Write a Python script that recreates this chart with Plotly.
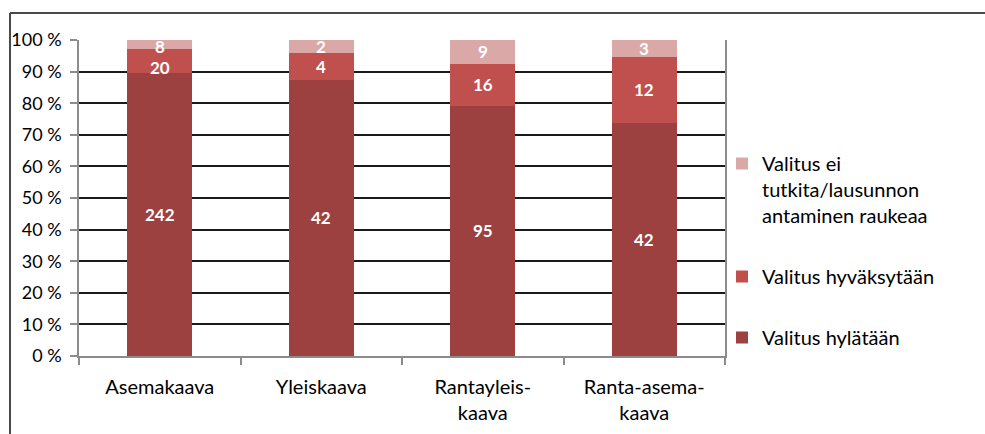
import plotly.graph_objects as go

categories = ["Asemakaava", "Yleiskaava", "Rantayleis-<br>kaava", "Ranta-asema-<br>kaava"]
hylataan = [242, 42, 95, 42]
hyvaksytaan = [20, 4, 16, 12]
ei_tutkita = [8, 2, 9, 3]
series_names = ["Valitus hylätään", "Valitus hyväksytään",
                "Valitus ei<br>tutkita/lausunnon<br>antaminen raukeaa"]
series_values = [hylataan, hyvaksytaan, ei_tutkita]
colors = ["#9C413F", "#C0504D", "#DBA8A8"]
y_ticks = [0, 10, 20, 30, 40, 50, 60, 70, 80, 90, 100]
y_tick_labels = [f"{v} %" for v in y_ticks]

FONT = "Lato"
W, H = 985, 434
L, R, T, B = 79, 725, 40, 356
pw, ph = R - L, B - T

def px(x):
    return (x - L) / pw

def py(y):
    return (B - y) / ph

fig = go.Figure()
n = len(series_names)
for i, (name, vals, col) in enumerate(zip(series_names, series_values, colors)):
    fig.add_trace(go.Bar(
        x=categories, y=vals, name=name, marker=dict(color=col, line=dict(width=0)),
        legendgroup=f"g{i}", legendrank=(n - i) * 100, hoverinfo="skip",
    ))

# data labels: centred in each stacked segment (percent-normalised),
# nudged down so small top labels stay inside the plot and don't collide
totals = [sum(v) for v in zip(*series_values)]
annotations = []
pix_per_pct = ph / 100.0
for j, cat in enumerate(categories):
    base = 0.0
    segs = []
    for vals in series_values:
        share = vals[j] / totals[j] * 100
        segs.append((base + share / 2, vals[j]))
        base += share
    prev_center_px = None
    for mid, v in reversed(segs):
        center_px = (100 - mid) * pix_per_pct
        shift = 0.0
        if center_px < 7:
            shift = 7 - center_px
        if prev_center_px is not None and center_px + shift - prev_center_px < 20:
            shift = prev_center_px + 20 - center_px
        shift = max(shift, 0.0)
        prev_center_px = center_px + shift
        annotations.append(dict(
            x=cat, y=mid, xref="x", yref="y", text=f"<b>{v}</b>",
            showarrow=False, font=dict(family=FONT, size=17, color="white"),
            yshift=-shift,
        ))

fig.update_layout(
    width=W, height=H,
    margin=dict(l=L, r=W - R, t=T, b=H - B, pad=0),
    barmode="stack", barnorm="percent", bargap=0.6,
    plot_bgcolor="white", paper_bgcolor="white",
    font=dict(family=FONT, size=20, color="black"),
    showlegend=True,
    legend=dict(traceorder="grouped", x=px(722), xanchor="left", y=py(144), yanchor="top",
                valign="top", tracegroupgap=32, font=dict(family=FONT, size=20, color="black"),
                bgcolor="rgba(0,0,0,0)"),
    xaxis=dict(showline=True, linecolor="#8c8c8c", linewidth=1.5, showgrid=False,
               ticks="outside", tickson="boundaries", ticklen=7, tickcolor="#8c8c8c", tickwidth=1.5,
               ticklabelstandoff=12, tickfont=dict(family=FONT, size=20, color="black"),
               automargin=False),
    yaxis=dict(range=[0, 100], tickmode="array", tickvals=y_ticks, ticktext=y_tick_labels,
               showline=True, mirror=True,
               linecolor="#8c8c8c", linewidth=1.5, showgrid=True, gridcolor="#1a1a1a", gridwidth=1.5,
               ticks="outside", ticklen=7, tickcolor="#8c8c8c", tickwidth=1.5,
               ticklabelstandoff=5, zeroline=False, tickfont=dict(family=FONT, size=18, color="black"),
               automargin=False),
    annotations=annotations,
    shapes=[
        dict(type="line", xref="paper", yref="paper", x0=px(10), x1=px(990), y0=py(13), y1=py(13),
             line=dict(color="#4a4a4a", width=2)),
        dict(type="line", xref="paper", yref="paper", x0=px(10), x1=px(10), y0=py(13), y1=py(440),
             line=dict(color="#4a4a4a", width=2)),
    ],
)

fig.write_html("out.html", config={"displayModeBar": False},
               post_script="document.body.style.margin='0';document.body.style.overflow='hidden';")
